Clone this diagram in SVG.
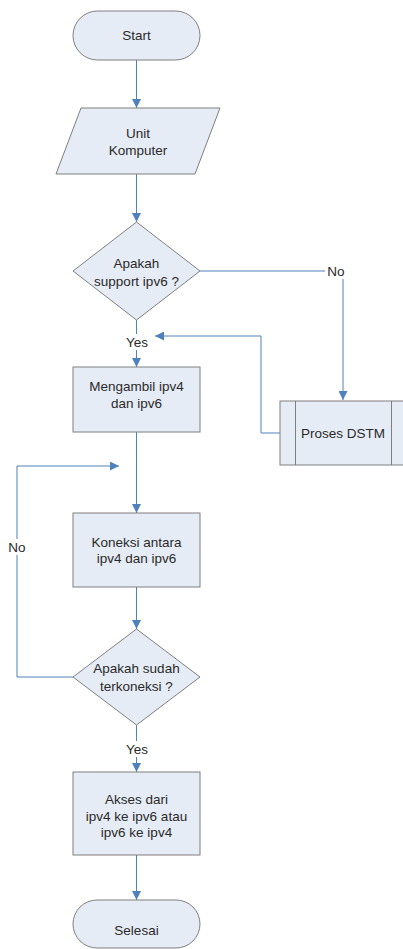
<svg xmlns="http://www.w3.org/2000/svg" width="403" height="949" viewBox="0 0 403 949">
<style>
.shape{fill:#e6ecf5;stroke:#7f7f7f;stroke-width:1}
.conn{fill:none;stroke:#4f81bd;stroke-width:1}
text{font-family:"Liberation Sans",Arial,sans-serif;font-size:13.5px;fill:#2a2a2a;text-anchor:middle}
</style>
<defs>
<marker id="arr" viewBox="0 0 10 10" refX="10" refY="5" markerWidth="9" markerHeight="9" markerUnits="userSpaceOnUse" orient="auto">
<path d="M0,0 L10,5 L0,10 Z" fill="#4f81bd"/>
</marker>
</defs>
<rect width="403" height="949" fill="#ffffff"/>
<g id="connectors">
<path class="conn" d="M136.5,60 V108" marker-end="url(#arr)"/>
<path class="conn" d="M136.5,174 V222" marker-end="url(#arr)"/>
<path class="conn" d="M200,271 H343 V400" marker-end="url(#arr)"/>
<path class="conn" d="M136.5,320 V367" marker-end="url(#arr)"/>
<path class="conn" d="M280,433 H261 V336 H155" marker-end="url(#arr)"/>
<path class="conn" d="M136.5,432 V513" marker-end="url(#arr)"/>
<path class="conn" d="M136.5,587 V629" marker-end="url(#arr)"/>
<path class="conn" d="M73,677 H17 V466 H119" marker-end="url(#arr)"/>
<path class="conn" d="M136.5,725 V772" marker-end="url(#arr)"/>
<path class="conn" d="M136.5,855 V900" marker-end="url(#arr)"/>
<rect x="325" y="263" width="21" height="16" fill="#ffffff"/>
<text x="336" y="276">No</text>
<rect x="120" y="334" width="34" height="16" fill="#ffffff"/>
<text x="137" y="347">Yes</text>
<rect x="6" y="539" width="22" height="16" fill="#ffffff"/>
<text x="17" y="552">No</text>
<rect x="120" y="741" width="34" height="16" fill="#ffffff"/>
<text x="137" y="754">Yes</text>
</g>
<g id="start">
<rect class="shape" x="73" y="11" width="127" height="49" rx="24.5"/>
<text x="136.5" y="40">Start</text>
</g>
<g id="unit-komputer">
<polygon class="shape" points="81,108 220,108 195,174 56,174"/>
<text x="138" y="138">Unit</text>
<text x="138" y="155">Komputer</text>
</g>
<g id="support-ipv6">
<polygon class="shape" points="136.5,222 200,271 136.5,320 73,271"/>
<text x="136.5" y="268">Apakah</text>
<text x="136.5" y="286">support ipv6 ?</text>
</g>
<g id="proses-dstm">
<rect class="shape" x="280" y="401" width="130" height="64"/>
<line x1="295.5" y1="401" x2="295.5" y2="465" stroke="#7f7f7f"/>
<line x1="391.5" y1="401" x2="391.5" y2="465" stroke="#7f7f7f"/>
<text x="343" y="438">Proses DSTM</text>
</g>
<g id="mengambil">
<rect class="shape" x="73" y="367" width="127" height="65"/>
<text x="136.5" y="391">Mengambil ipv4</text>
<text x="136.5" y="408">dan ipv6</text>
</g>
<g id="koneksi">
<rect class="shape" x="73" y="513" width="127" height="74"/>
<text x="136.5" y="547">Koneksi antara</text>
<text x="136.5" y="563">ipv4 dan ipv6</text>
</g>
<g id="terkoneksi">
<polygon class="shape" points="136.5,629 200,677 136.5,725 73,677"/>
<text x="136.5" y="673">Apakah sudah</text>
<text x="136.5" y="691">terkoneksi ?</text>
</g>
<g id="akses">
<rect class="shape" x="73" y="772" width="127" height="83"/>
<text x="136.5" y="804">Akses dari</text>
<text x="136.5" y="821">ipv4 ke ipv6 atau</text>
<text x="136.5" y="837">ipv6 ke ipv4</text>
</g>
<g id="selesai">
<rect class="shape" x="73" y="900" width="127" height="48" rx="24"/>
<text x="136.5" y="935">Selesai</text>
</g>
</svg>
